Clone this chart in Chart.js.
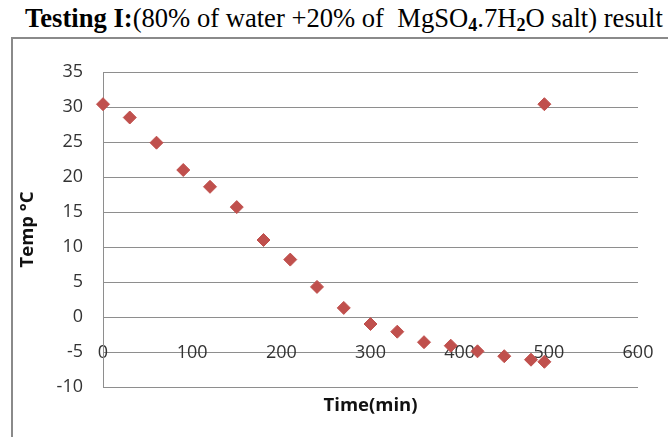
<!DOCTYPE html>
<html>
<head>
<meta charset="utf-8">
<script src="https://cdn.jsdelivr.net/npm/chart.js@4"></script>
<style>
  html, body { margin:0; padding:0; background:#fff; }
  body { width:668px; height:437px; position:relative; overflow:hidden; }
  #title { position:absolute; left:25px; top:3px; white-space:nowrap;
           font-family:"Liberation Serif","Times New Roman",serif; font-size:26.6px; color:#000; }
  #title sub { font-size:0.68em; vertical-align:-0.22em; line-height:0; }
  #frame { position:absolute; left:11px; top:37px; width:800px; height:600px;
           border-left:2px solid #8a8a8a; border-top:2px solid #8a8a8a; }
  #wrap { position:absolute; left:0; top:0; width:668px; height:437px; }
</style>
</head>
<body>
<div id="title"><b>Testing I:</b>(80% of water +20% of &nbsp;MgSO<sub><b>4</b></sub>.7H<sub><b>2</b></sub>O salt) result</div>
<div id="frame"></div>
<div id="wrap"><canvas id="c"></canvas></div>
<script>
// time (min) vs temperature (°C)
const timeMin = [0, 30, 60, 90, 120, 150, 180, 210, 240, 270, 300, 330, 360, 390, 420, 450, 480, 495, 495];
const tempC   = [30.4, 28.5, 24.9, 21.0, 18.6, 15.7, 11.0, 8.2, 4.3, 1.3, -1.0, -2.1, -3.6, -4.1, -4.9, -5.6, -6.1, -6.4, 30.4];
const yTicks = [-10, -5, 0, 5, 10, 15, 20, 25, 30, 35];
const xTicks = [0, 100, 200, 300, 400, 500, 600];

const points = timeMin.map((t, i) => ({ x: t, y: tempC[i] }));
const MARK = "#c0504d";
const GRID = "#8e8e8e";
const FONT = "'Open Sans', 'Noto Sans', sans-serif";

new Chart(document.getElementById("c"), {
  type: "scatter",
  data: { datasets: [{
    data: points,
    clip: false,
    pointStyle: "rectRot",
    pointRadius: 6.5,
    pointBackgroundColor: MARK,
    pointBorderColor: MARK,
    pointBorderWidth: 1
  }]},
  options: {
    responsive: true,
    maintainAspectRatio: false,
    animation: false,
    layout: { padding: { left: 0, top: 72, right: 30, bottom: 0 } },
    plugins: { legend: { display: false }, tooltip: { enabled: false } },
    scales: {
      x: {
        type: "linear",
        min: 0, max: 600,
        afterBuildTicks: s => { s.ticks = xTicks.map(v => ({ value: v })); },
        afterFit: s => { s.height = 50; s.paddingLeft = 0; s.paddingRight = 0; },
        grid: { display: false, drawTicks: false },
        border: { display: false },
        // mirrored labels pushed up so they sit on the -5 gridline, as in the original
        ticks: { color: "#333", font: { family: FONT, size: 18, lineHeight: 1.2 },
                 mirror: true, padding: 23.5, maxRotation: 0 },
        title: { display: true, text: "Time(min)", color: "#111",
                 font: { family: FONT, size: 18.5, weight: "bold", lineHeight: 1.2 },
                 padding: { top: 0, bottom: 20 } }
      },
      y: {
        min: -10, max: 35,
        afterBuildTicks: s => { s.ticks = yTicks.map(v => ({ value: v })); },
        afterFit: s => { s.width = 103; },
        grid: { color: GRID, lineWidth: 1, drawTicks: false },
        border: { display: true, color: GRID, width: 1 },
        ticks: { color: "#333", font: { family: FONT, size: 18 }, padding: 20 },
        title: { display: true, text: "Temp °C", color: "#111",
                 font: { family: FONT, size: 18.5, weight: "bold", lineHeight: 1.2 },
                 padding: { top: 17, bottom: 0 } }
      }
    }
  }
});
</script>
</body>
</html>
